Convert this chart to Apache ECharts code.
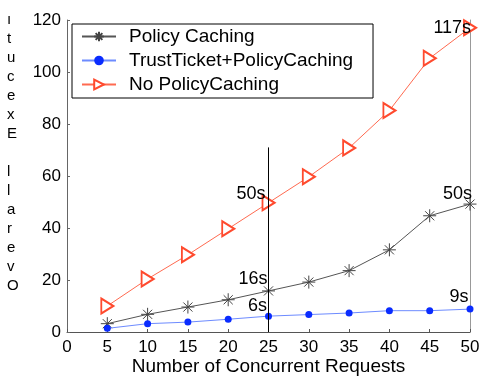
<!DOCTYPE html>
<html>
<head>
<meta charset="utf-8">
<script src="https://cdn.jsdelivr.net/npm/echarts@6/dist/echarts.min.js"></script>
<style>
html,body{margin:0;padding:0;background:#fff;}
#chart{width:481px;height:377px;}
</style>
</head>
<body>
<div id="chart"></div>
<script>
var requests = [5, 10, 15, 20, 25, 30, 35, 40, 45, 50];
var policyCaching = [3.2, 6.8, 9.6, 12.4, 15.8, 19.2, 23.6, 31.6, 44.7, 49.2];
var trustTicket = [1.4, 3.2, 3.8, 4.9, 6.1, 6.7, 7.3, 8.2, 8.2, 8.8];
var noPolicyCaching = [10, 20.4, 29.7, 39.7, 49.7, 59.7, 70.8, 85.2, 105.3, 117];
var seriesNames = ['Policy Caching', 'TrustTicket+PolicyCaching', 'No PolicyCaching'];
var yAxisTitle = 'Overall Executı';
var xAxisTitle = 'Number of Concurrent Requests';
// annotations: [series index, point index, text]
var annotations = [
  [2, 4, '50s'], [2, 9, '117s'],
  [0, 4, '16s'], [0, 9, '50s'],
  [1, 4, '6s'], [1, 9, '9s']
];
var markerLineX = 25, markerLineTop = 71;

var FONT = 'Liberation Sans, Arial, Helvetica, sans-serif';
var labelOffsets = {
  '2-4': [4, -9], '2-9': [8, 0],
  '0-4': [6, -12], '0-9': [9, -10],
  '1-4': [2, -10], '1-9': [2, -12]
};
function buildData(vals, si) {
  return vals.map(function (v, i) {
    var item = { value: [requests[i], v] };
    annotations.forEach(function (a) {
      if (a[0] === si && a[1] === i) {
        item.label = {
          show: true, position: 'left', distance: 0,
          offset: labelOffsets[si + '-' + i],
          formatter: a[2], color: '#000', fontSize: 18, fontFamily: FONT
        };
      }
    });
    return item;
  });
}
var stackedTitle = yAxisTitle.split('').reverse().join('\n');

var chart = echarts.init(document.getElementById('chart'), null, { renderer: 'canvas' });
chart.setOption({
  animation: false,
  backgroundColor: '#fff',
  grid: { left: 67, right: 11, top: 20, bottom: 45, containLabel: false, outerBoundsMode: 'none' },
  legend: {
    orient: 'vertical', left: 72, top: 24,
    padding: [3, 20, 4, 9],
    itemWidth: 34, itemHeight: 12, itemGap: 5,
    borderColor: '#000', borderWidth: 1, backgroundColor: '#fff',
    textStyle: { fontSize: 19, fontFamily: FONT, color: '#000', padding: [0, 0, 0, 8] },
    data: seriesNames
  },
  xAxis: {
    type: 'value', min: 0, max: 50, interval: 5,
    name: xAxisTitle, nameLocation: 'middle', nameGap: 25, nameMoveOverlap: false,
    nameTextStyle: { fontSize: 19, fontFamily: FONT, color: '#000' },
    axisLine: { lineStyle: { color: '#555' } },
    axisTick: { inside: true, length: 3, lineStyle: { color: '#555' } },
    axisLabel: { fontSize: 17, fontFamily: FONT, color: '#000', margin: 7 },
    splitLine: { show: false }
  },
  yAxis: [{
    type: 'value', min: 0, max: 120, interval: 20,
    axisLine: { show: true, lineStyle: { color: '#666' } },
    axisTick: { show: true, inside: true, length: 3, lineStyle: { color: '#666' } },
    axisLabel: { fontSize: 17, fontFamily: FONT, color: '#000', margin: 6 },
    splitLine: { show: false }
  }, {
    type: 'value', min: 0, max: 120, interval: 20, position: 'right',
    axisLine: { show: true, lineStyle: { color: '#999' } },
    axisTick: { show: false }, axisLabel: { show: false }, splitLine: { show: false }
  }],
  graphic: [{
    type: 'text', left: 7, top: 10,
    style: { text: stackedTitle, font: '15px ' + FONT, lineHeight: 19, fill: '#000', align: 'center' }
  }],
  series: [{
    name: seriesNames[0], type: 'line', data: buildData(policyCaching, 0),
    symbol: 'path://M0,5L10,5M5,0L5,10M1.5,1.5L8.5,8.5M8.5,1.5L1.5,8.5',
    symbolSize: 13,
    itemStyle: { color: '#444', borderColor: '#444', borderWidth: 1 },
    lineStyle: { color: '#555', width: 1 },
    markLine: {
      silent: true, symbol: ['none', 'none'],
      lineStyle: { color: '#000', width: 1, type: 'solid' },
      label: { show: false },
      data: [[{ coord: [markerLineX, 0] }, { coord: [markerLineX, markerLineTop] }]]
    },
    z: 3
  }, {
    name: seriesNames[1], type: 'line', data: buildData(trustTicket, 1),
    symbol: 'circle', symbolSize: 7,
    itemStyle: { color: '#0a2cff' },
    lineStyle: { color: '#6d8bff', width: 1 },
    z: 4
  }, {
    name: seriesNames[2], type: 'line', data: buildData(noPolicyCaching, 2),
    symbol: 'emptyTriangle', symbolRotate: -90, symbolSize: [15, 12],
    itemStyle: { color: '#ff4a2e', borderColor: '#ff4a2e', borderWidth: 1 },
    lineStyle: { color: '#ff6a50', width: 1 },
    z: 2
  }]
});
</script>
</body>
</html>
